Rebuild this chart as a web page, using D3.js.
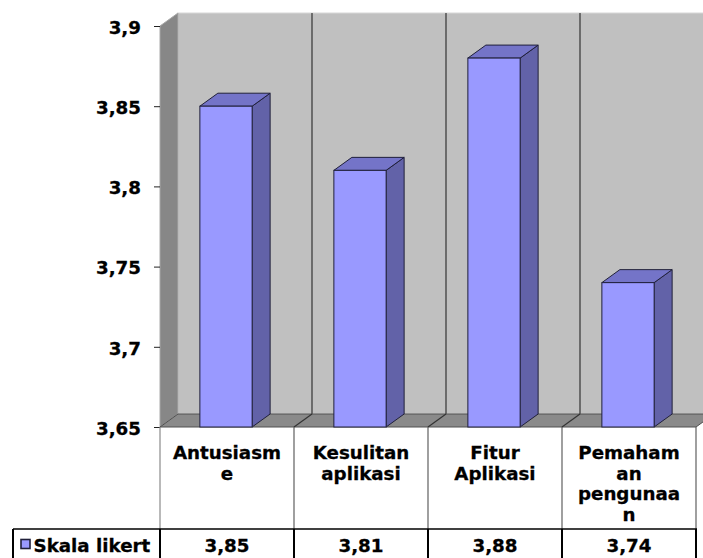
<!DOCTYPE html>
<html><head><meta charset="utf-8">
<script src="https://cdn.jsdelivr.net/npm/d3@7/dist/d3.min.js"></script>
<style>
html,body{margin:0;padding:0;background:#fff;}
svg{display:block;}
text{font-family:"DejaVu Sans",Verdana,sans-serif;font-weight:bold;fill:#000;stroke:#000;stroke-width:0.3px;}
</style></head>
<body>
<svg id="chart" width="703" height="558"></svg>
<script>
const categories = ["Antusiasme","Kesulitan aplikasi","Fitur Aplikasi","Pemahaman pengunaan"];
const categoryLines = [["Antusiasm","e"],["Kesulitan","aplikasi"],["Fitur","Aplikasi"],["Pemaham","an","pengunaa","n"]];
const seriesName = "Skala likert";
const values = [3.85, 3.81, 3.88, 3.74];
const valueLabels = ["3,85","3,81","3,88","3,74"];
const tickValues = [3.65, 3.7, 3.75, 3.8, 3.85, 3.9];
const tickLabels = ["3,65","3,7","3,75","3,8","3,85","3,9"];

const svg = d3.select("#chart");
const plotL = 160, plotR = 696, plotT = 26, plotB = 427;
const dx = 18, dy = -13;
const y = d3.scaleLinear().domain([3.65, 3.9]).range([plotB, plotT]);
const x = d3.scaleBand().domain(categories).range([plotL, plotR]);
const step = x.step();
const barW = step * 0.39;
const barOff = (step - barW) / 2 - 1;

const fs = 18.25;

// back wall
svg.append("rect").attr("x", plotL + dx).attr("y", plotT + dy)
  .attr("width", plotR - plotL).attr("height", plotB - plotT)
  .attr("fill", "#c0c0c0").attr("stroke", "#d8d8d8").attr("stroke-width", 1);
categories.slice(1).forEach(c => {
  svg.append("line").attr("x1", x(c) + dx).attr("x2", x(c) + dx)
    .attr("y1", plotT + dy).attr("y2", plotB + dy)
    .attr("stroke", "#333").attr("stroke-width", 1.2);
});
// left wall
svg.append("polygon")
  .attr("points", [[plotL, plotT],[plotL+dx, plotT+dy],[plotL+dx, plotB+dy],[plotL, plotB]].join(" "))
  .attr("fill", "#878787").attr("stroke", "#a8a8a8").attr("stroke-width", 1);
// floor
svg.append("polygon")
  .attr("points", [[plotL, plotB],[plotL+dx, plotB+dy],[plotR+dx, plotB+dy],[plotR, plotB]].join(" "))
  .attr("fill", "#8a8a8a").attr("stroke", "#505050").attr("stroke-width", 1);
categories.slice(1).forEach(c => {
  svg.append("line").attr("x1", x(c)).attr("x2", x(c) + dx)
    .attr("y1", plotB).attr("y2", plotB + dy)
    .attr("stroke", "#333").attr("stroke-width", 1.2);
});

// bars
const bars = svg.append("g");
categories.forEach((c, i) => {
  const x0 = x(c) + barOff, x1 = x0 + barW, yt = y(values[i]), yb = y(3.65);
  const g = bars.append("g");
  g.append("polygon").attr("points", [[x1, yt],[x1+dx, yt+dy],[x1+dx, yb+dy],[x1, yb]].join(" "))
    .attr("fill", "#6262a8").attr("stroke", "#20203a").attr("stroke-width", 1);
  g.append("polygon").attr("points", [[x0, yt],[x0+dx, yt+dy],[x1+dx, yt+dy],[x1, yt]].join(" "))
    .attr("fill", "#7474c8").attr("stroke", "#20203a").attr("stroke-width", 1);
  g.append("rect").attr("x", x0).attr("y", yt).attr("width", barW).attr("height", yb - yt)
    .attr("fill", "#9999ff").attr("stroke", "#20203a").attr("stroke-width", 1);
});

// y axis
const axis = d3.axisLeft(y).tickValues(tickValues)
  .tickFormat((d, i) => tickLabels[i]).tickSize(6).tickPadding(13);
const ag = svg.append("g").attr("transform", `translate(${plotL},0)`).call(axis);
ag.select(".domain").remove();
ag.selectAll(".tick line").attr("stroke", "#222");
ag.selectAll(".tick text").attr("font-size", fs).attr("font-family", '"DejaVu Sans",sans-serif')
  .attr("font-weight", "bold").attr("fill", "#000").attr("dy", "0.4em");

// table header row
const hTop = plotB, hBot = 529, vBot = 560;
const bounds = categories.map(c => x(c)).concat([plotR]);
bounds.forEach((b, i) => {
  svg.append("line").attr("x1", b).attr("x2", b).attr("y1", hTop).attr("y2", hBot)
    .attr("stroke", i === 0 ? "#8a8a8a" : "#606060").attr("stroke-width", 1.2);
});
categories.forEach((c, i) => {
  const cx = x(c) + step / 2;
  categoryLines[i].forEach((ln, j) => {
    svg.append("text").attr("x", cx).attr("y", 459 + j * 20.5)
      .attr("text-anchor", "middle").attr("font-size", fs).text(ln);
  });
});

// value row
svg.append("line").attr("x1", 13).attr("x2", plotR + 1).attr("y1", hBot).attr("y2", hBot)
  .attr("stroke", "#000").attr("stroke-width", 1.5);
[13].concat(bounds).forEach(b => {
  svg.append("line").attr("x1", b).attr("x2", b).attr("y1", hBot).attr("y2", vBot)
    .attr("stroke", "#000").attr("stroke-width", 2);
});
svg.append("rect").attr("x", 21).attr("y", 539.5).attr("width", 9).attr("height", 9)
  .attr("fill", "#9999ff").attr("stroke", "#20203a").attr("stroke-width", 1.6);
svg.append("text").attr("x", 33.5).attr("y", 552).attr("font-size", fs).text(seriesName);
categories.forEach((c, i) => {
  svg.append("text").attr("x", x(c) + step / 2).attr("y", 552)
    .attr("text-anchor", "middle").attr("font-size", fs).text(valueLabels[i]);
});
</script>
</body></html>
